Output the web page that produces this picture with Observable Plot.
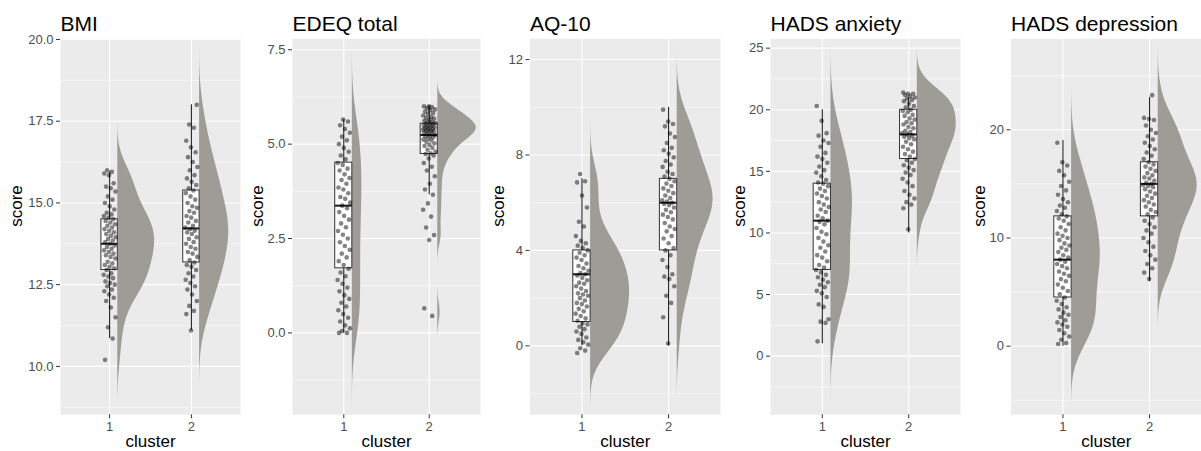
<!DOCTYPE html>
<html><head><meta charset="utf-8">
<script src="https://cdn.jsdelivr.net/npm/d3@7"></script>
<script src="https://cdn.jsdelivr.net/npm/@observablehq/plot@0.6"></script>
<style>
html,body{margin:0;padding:0;background:#fff;overflow:hidden;}
#chart{position:relative;width:1201px;height:451px;overflow:hidden;font-family:"Liberation Sans",Arial,sans-serif;}
#chart > div{position:absolute;top:0;}
</style></head><body><div id="chart"></div>
<script>
// ---------- data ----------
const panelTitles = ["BMI", "EDEQ total", "AQ-10", "HADS anxiety", "HADS depression"];
const clusters = [1, 2];
const xLabel = "cluster";
const yLabel = "score";

const bmiC1 = [10.2,10.85,11.2,11.5,11.8,12.0,12.1,12.2,12.3,12.35,12.45,12.5,12.55,12.6,12.7,12.75,12.8,12.85,12.95,13.0,13.05,13.1,13.15,13.2,13.3,13.35,13.4,13.45,13.5,13.55,13.6,13.65,13.7,13.75,13.8,13.85,13.9,13.95,14.0,14.05,14.1,14.15,14.2,14.25,14.3,14.35,14.4,14.45,14.5,14.55,14.6,14.65,14.7,14.8,14.9,15.0,15.1,15.2,15.35,15.45,15.5,15.6,15.85,15.9,15.95,16.0];
const bmiC2 = [11.1,11.6,11.7,11.85,12.0,12.2,12.35,12.45,12.55,12.65,12.75,12.85,12.95,13.05,13.1,13.18,13.25,13.35,13.45,13.5,13.6,13.65,13.75,13.8,13.9,13.95,14.05,14.1,14.15,14.2,14.25,14.3,14.4,14.45,14.55,14.6,14.7,14.75,14.85,14.9,15.0,15.1,15.2,15.3,15.38,15.45,15.55,15.65,15.75,15.85,16.0,16.1,16.25,16.4,16.55,16.7,16.9,17.3,17.4,18.0];
const edeqC1 = [0.0,0.0,0.05,0.12,0.2,0.3,0.4,0.5,0.6,0.7,0.8,0.9,1.0,1.1,1.2,1.3,1.4,1.5,1.6,1.7,1.8,1.9,2.0,2.1,2.2,2.3,2.4,2.5,2.6,2.7,2.8,2.9,3.0,3.1,3.2,3.3,3.37,3.45,3.55,3.6,3.7,3.8,3.85,3.95,4.05,4.1,4.2,4.3,4.35,4.45,4.5,4.6,4.7,4.8,4.9,5.0,5.1,5.2,5.3,5.4,5.5,5.6,5.65];
const edeqC2 = [6.0,6.0,5.98,5.95,5.92,5.9,5.86,5.82,5.8,5.76,5.72,5.7,5.68,5.65,5.62,5.6,5.58,5.56,5.55,5.54,5.52,5.5,5.49,5.48,5.46,5.44,5.43,5.42,5.4,5.39,5.38,5.36,5.35,5.34,5.32,5.3,5.28,5.26,5.24,5.22,5.2,5.18,5.15,5.12,5.1,5.06,5.02,4.98,4.95,4.9,4.85,4.8,4.76,4.74,4.7,4.62,4.5,4.4,4.3,4.15,3.95,3.8,3.66,3.43,3.26,3.08,2.79,2.59,2.46,0.65,0.45];
const aqC1 = [-0.3,-0.2,-0.1,0.05,0.15,0.25,0.35,0.5,0.6,0.7,0.8,0.9,0.95,1.05,1.15,1.25,1.35,1.45,1.55,1.65,1.75,1.8,1.9,2.0,2.1,2.15,2.2,2.3,2.4,2.5,2.6,2.65,2.75,2.85,2.95,3.0,3.05,3.15,3.25,3.35,3.45,3.6,3.7,3.8,3.9,4.0,4.1,4.2,4.3,4.4,4.6,5.0,5.2,5.8,6.3,6.85,6.9,7.2];
const aqC2 = [0.1,1.2,1.8,2.1,2.5,2.8,2.9,3.0,3.3,3.6,3.8,4.0,4.1,4.3,4.5,4.6,4.8,4.9,5.0,5.15,5.3,5.4,5.5,5.6,5.7,5.8,5.9,5.95,6.0,6.05,6.1,6.2,6.3,6.4,6.5,6.6,6.7,6.8,6.9,7.0,7.1,7.2,7.3,7.5,7.6,7.75,7.9,8.05,8.2,8.3,8.5,8.75,8.9,9.2,9.3,9.4,9.9];
const anxC1 = [1.2,2.7,2.8,3.0,4.0,4.2,4.8,5.1,5.3,5.6,5.8,6.0,6.2,6.4,6.6,6.8,7.0,7.2,7.4,7.7,8.0,8.2,8.5,8.8,9.0,9.3,9.6,9.9,10.1,10.4,10.7,10.9,11.0,11.2,11.4,11.7,11.9,12.1,12.3,12.5,12.8,13.0,13.2,13.4,13.6,13.8,14.0,14.1,14.3,14.6,14.9,15.1,15.4,15.7,16.0,16.2,16.5,17.0,17.3,17.5,17.9,18.1,19.1,20.3];
const anxC2 = [10.3,12.0,12.3,12.5,12.8,13.1,13.4,13.8,14.1,14.4,14.7,14.9,15.1,15.3,15.5,15.7,15.9,16.0,16.2,16.4,16.6,16.8,17.0,17.2,17.4,17.6,17.7,17.8,17.9,18.0,18.1,18.2,18.3,18.5,18.6,18.8,18.9,19.0,19.2,19.3,19.5,19.6,19.8,19.9,20.0,20.2,20.3,20.5,20.7,20.8,20.9,21.0,21.1,21.2,21.3,21.3,21.4];
const depC1 = [0.2,0.3,0.6,0.9,1.2,1.5,1.8,2.0,2.2,2.4,2.7,2.9,3.1,3.4,3.6,3.9,4.2,4.5,4.8,5.1,5.4,5.7,6.0,6.2,6.5,6.7,6.9,7.2,7.4,7.6,7.8,8.0,8.2,8.4,8.7,8.9,9.1,9.3,9.5,9.8,10.0,10.2,10.4,10.7,11.0,11.3,11.6,11.8,12.0,12.2,12.5,12.8,13.0,13.3,13.6,14.0,14.4,14.8,15.2,15.8,16.2,16.7,17.0,18.8];
const depC2 = [6.2,6.8,7.2,7.6,8.0,8.4,8.8,9.2,9.6,10.0,10.4,10.7,11.0,11.3,11.6,11.9,12.2,12.4,12.6,12.9,13.1,13.3,13.5,13.7,13.9,14.1,14.3,14.5,14.7,14.8,14.9,15.0,15.1,15.3,15.5,15.6,15.8,16.0,16.2,16.4,16.6,16.8,17.0,17.3,17.6,17.9,18.2,18.5,18.8,19.1,19.4,19.7,20.0,20.4,20.9,21.0,21.1,23.2];

// box stats: [lower whisker, Q1, median, Q3, upper whisker]
const bmiBox1 = [10.85, 12.95, 13.75, 14.5, 15.95];
const bmiBox2 = [11.1, 13.18, 14.22, 15.38, 18.0];
const edeqBox1 = [0.0, 1.71, 3.37, 4.51, 5.65];
const edeqBox2 = [3.66, 4.74, 5.24, 5.54, 6.02];
const aqBox1 = [0, 1, 3, 4, 7];
const aqBox2 = [0, 4, 6, 7, 10];
const anxBox1 = [1, 7, 11, 14, 20];
const anxBox2 = [10, 16, 18, 20, 21];
const depBox1 = [0, 4.5, 8, 12, 19];
const depBox2 = [6, 12, 15, 17, 23];

// y-axis ticks and ranges
const bmiTicks = [10, 12.5, 15, 17.5, 20];
const edeqTicks = [0, 2.5, 5, 7.5];
const aqTicks = [0, 4, 8, 12];
const anxTicks = [0, 5, 10, 15, 20, 25];
const depTicks = [0, 10, 20];
const bmiRange = [8.52, 20.02];
const edeqRange = [-2.17, 7.79];
const aqRange = [-2.89, 12.87];
const anxRange = [-4.76, 25.76];
const depRange = [-6.34, 28.41];

// ---------- helpers ----------
function bwNrd0(v) {
  const s = d3.deviation(v);
  const q = (d3.quantile(v, 0.75) - d3.quantile(v, 0.25)) / 1.34;
  let lo = Math.min(s, q);
  if (!(lo > 0)) lo = s || 1;
  return 0.9 * lo * Math.pow(v.length, -0.2);
}
function kde(v, n = 240) {
  const bw = bwNrd0(v);
  const lo = d3.min(v) - 3 * bw, hi = d3.max(v) + 3 * bw;
  const out = [];
  for (let i = 0; i < n; i++) {
    const y = lo + (hi - lo) * i / (n - 1);
    let s = 0;
    for (const x of v) { const z = (y - x) / bw; s += Math.exp(-0.5 * z * z); }
    out.push({y, d: s / (v.length * bw * Math.sqrt(2 * Math.PI))});
  }
  return out;
}
// deterministic horizontal jitter (layout only)
const jit = i => (((i * 0.6180339887 + 0.13) % 1) - 0.5) * 0.15;

const NUDGE = 0.1, VW = 0.45, BOXW = 0.1;

function panel(cfg) {
  const {title, c1, c2, box1, box2, domain, ticks, fmt, x0, width, marginLeft, scoreDx} = cfg;
  const dens1 = kde(c1), dens2 = kde(c2);
  const maxD = Math.max(d3.max(dens1, d => d.d), d3.max(dens2, d => d.d));
  const violin = [
    ...dens1.map(p => ({c: 1, y: p.y, x1: 1 + NUDGE, x2: 1 + NUDGE + VW * p.d / maxD})),
    ...dens2.map(p => ({c: 2, y: p.y, x1: 2 + NUDGE, x2: 2 + NUDGE + VW * p.d / maxD}))
  ];
  const boxes = [box1, box2].map((b, i) => ({c: clusters[i], lo: b[0], q1: b[1], med: b[2], q3: b[3], hi: b[4]}));
  const pts = [
    ...c1.map((v, i) => ({x: 1 + jit(i), y: v})),
    ...c2.map((v, i) => ({x: 2 + jit(i + 41), y: v}))
  ];
  const step = ticks[1] - ticks[0];
  const minor = [];
  for (let t = ticks[0] - step / 2; t <= ticks[ticks.length - 1] + step; t += step)
    if (t > domain[0] && t < domain[1]) minor.push(t);

  const svg = Plot.plot({
    width, height: 451,
    marginLeft, marginRight: 0, marginTop: 38.3, marginBottom: 36.7,
    x: {domain: [0.4, 2.6]},
    y: {domain},
    style: {fontFamily: '"Liberation Sans", Arial, sans-serif', fontSize: "13px", background: "transparent", overflow: "visible"},
    marks: [
      Plot.frame({fill: "#EBEBEB", stroke: "none"}),
      Plot.ruleY(minor, {stroke: "white", strokeWidth: 0.55}),
      Plot.ruleY(ticks.filter(t => t > domain[0] && t < domain[1]), {stroke: "white", strokeWidth: 1.1}),
      Plot.ruleX(clusters, {stroke: "white", strokeWidth: 1.1}),
      Plot.areaX(violin, {y: "y", x1: "x1", x2: "x2", z: "c", fill: "#9d9c97", clip: true}),
      Plot.ruleX(boxes, {x: "c", y1: "lo", y2: "hi", stroke: "#262626", strokeWidth: 1.1}),
      Plot.rect(boxes, {x1: d => d.c - BOXW, x2: d => d.c + BOXW, y1: "q1", y2: "q3", fill: "white", stroke: "#333333", strokeWidth: 1}),
      Plot.ruleY(boxes, {y: "med", x1: d => d.c - BOXW, x2: d => d.c + BOXW, stroke: "#1a1a1a", strokeWidth: 2}),
      Plot.dot(pts, {x: "x", y: "y", r: 2.3, fill: "black", fillOpacity: 0.48, stroke: "none"}),
      Plot.axisY(ticks, {tickSize: 4, tickPadding: 3, tickFormat: fmt, stroke: "#333333", fill: "#4D4D4D", fontSize: 13, label: null}),
      Plot.axisX(clusters, {tickSize: 4, tickPadding: 3, tickFormat: d => String(d), stroke: "#333333", fill: "#4D4D4D", fontSize: 13, label: null}),
      Plot.text([title], {text: d => d, frameAnchor: "top-left", textAnchor: "start", lineAnchor: "bottom", dy: -8, fontSize: 21, fill: "black"}),
      Plot.text([yLabel], {text: d => d, frameAnchor: "left", rotate: -90, dx: scoreDx, fontSize: 17, fill: "black"}),
      Plot.text([xLabel], {text: d => d, frameAnchor: "bottom", lineAnchor: "bottom", dy: 32.5, fontSize: 17, fill: "black"})
    ]
  });
  const wrap = document.createElement("div");
  wrap.style.left = x0 + "px";
  wrap.appendChild(svg);
  document.getElementById("chart").appendChild(wrap);
}

const f1 = d3.format(".1f"), f0 = d => String(d);
panel({title: panelTitles[0], c1: bmiC1, c2: bmiC2, box1: bmiBox1, box2: bmiBox2, domain: bmiRange, ticks: bmiTicks, fmt: f1, x0: 0, width: 240, marginLeft: 60, scoreDx: -44});
panel({title: panelTitles[1], c1: edeqC1, c2: edeqC2, box1: edeqBox1, box2: edeqBox2, domain: edeqRange, ticks: edeqTicks, fmt: f1, x0: 240, width: 240, marginLeft: 52, scoreDx: -34.5});
panel({title: panelTitles[2], c1: aqC1, c2: aqC2, box1: aqBox1, box2: aqBox2, domain: aqRange, ticks: aqTicks, fmt: f0, x0: 480, width: 240, marginLeft: 49.5, scoreDx: -31.7});
panel({title: panelTitles[3], c1: anxC1, c2: anxC2, box1: anxBox1, box2: anxBox2, domain: anxRange, ticks: anxTicks, fmt: f0, x0: 720, width: 240, marginLeft: 50, scoreDx: -31.3});
panel({title: panelTitles[4], c1: depC1, c2: depC2, box1: depBox1, box2: depBox2, domain: depRange, ticks: depTicks, fmt: f0, x0: 960, width: 241, marginLeft: 50.5, scoreDx: -31.8});
</script></body></html>
